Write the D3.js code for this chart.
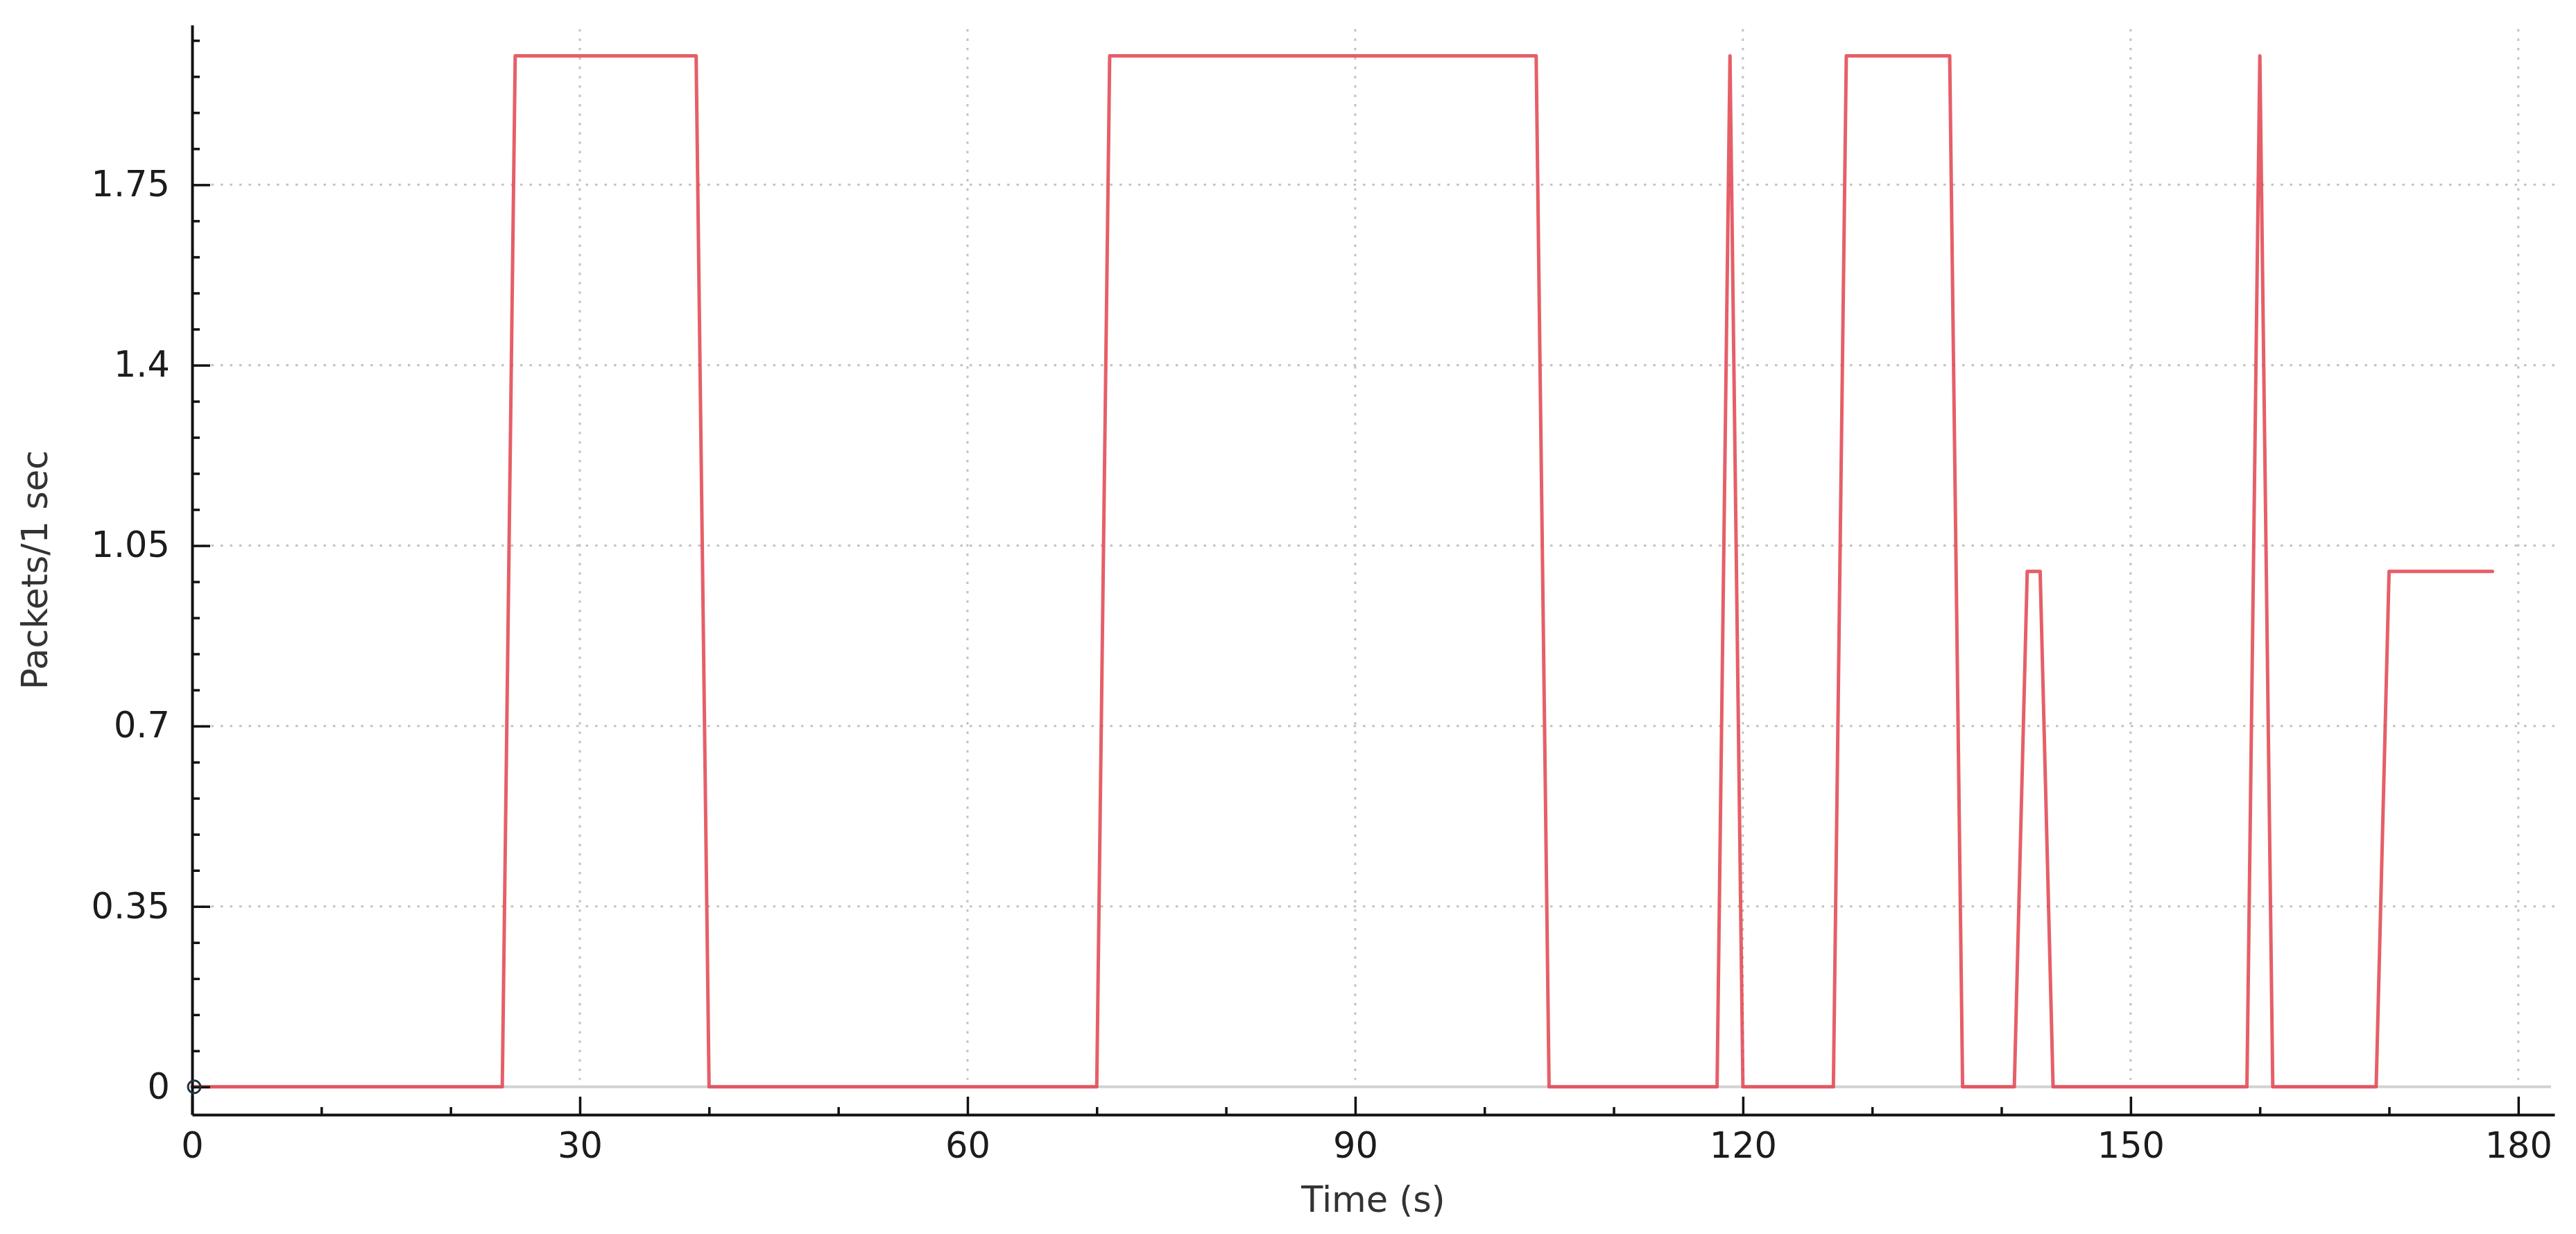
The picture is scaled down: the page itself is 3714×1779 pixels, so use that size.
<!DOCTYPE html>
<html>
<head>
<meta charset="utf-8">
<script src="https://cdn.jsdelivr.net/npm/d3@7"></script>
<style>
  body { margin: 0; background: #fff; }
  text { font-family: "DejaVu Sans", sans-serif; }
</style>
</head>
<body>
<div id="vis-container"></div>
<script>
// packets per 1 s bin, only the points where the rate changes
var times   = [0, 24, 25, 39, 40, 70, 71, 104, 105, 118, 119, 120, 127, 128, 136, 137, 141, 142, 143, 144, 159, 160, 161, 169, 170, 178];
var packets = [0, 0, 2, 2, 0, 0, 2, 2, 0, 0, 2, 0, 0, 2, 2, 0, 0, 1, 1, 0, 0, 2, 0, 0, 1, 1];

var xTicks = [0, 30, 60, 90, 120, 150, 180];
var xMinorTicks = [10, 20, 40, 50, 70, 80, 100, 110, 130, 140, 160, 170];
var yTicks = [0, 0.35, 0.7, 1.05, 1.4, 1.75];
var yMinorTicks = [0.07, 0.14, 0.21, 0.28, 0.42, 0.49, 0.56, 0.63, 0.77, 0.84, 0.91, 0.98,
                   1.12, 1.19, 1.26, 1.33, 1.47, 1.54, 1.61, 1.68, 1.82, 1.89, 1.96, 2.03];
var xDomain = [0, 182.8];
var yDomain = [-0.054, 2.06];

var W = 3714, H = 1779;
var margin = { top: 36, right: 31, bottom: 172, left: 277 },
    width  = W - margin.left - margin.right,
    height = H - margin.top  - margin.bottom;

var xScale = d3.scaleLinear().domain(xDomain).range([0, width]);
var yScale = d3.scaleLinear().domain(yDomain).range([height, 0]);

var svg = d3.select("#vis-container")
  .append("svg")
    .attr("width", W)
    .attr("height", H)
    .style("display", "block");

var canvas = svg.append("g")
    .attr("transform", "translate(" + margin.left + "," + margin.top + ")");

// dotted grid at the major ticks
canvas.append("g").attr("class", "grid")
  .selectAll("line.v")
  .data(xTicks.filter(function(d) { return d > 0; }))
  .enter().append("line")
    .attr("x1", function(d) { return xScale(d); })
    .attr("x2", function(d) { return xScale(d); })
    .attr("y1", yScale(yDomain[1]) + 6)
    .attr("y2", yScale(0) - 10)
    .style("stroke", "#c2c2c2")
    .style("stroke-width", 3)
    .style("stroke-dasharray", "3.5,10");

canvas.append("g").attr("class", "grid")
  .selectAll("line.h")
  .data(yTicks.filter(function(d) { return d > 0; }))
  .enter().append("line")
    .attr("x1", 14)
    .attr("x2", width)
    .attr("y1", function(d) { return yScale(d); })
    .attr("y2", function(d) { return yScale(d); })
    .style("stroke", "#c2c2c2")
    .style("stroke-width", 3)
    .style("stroke-dasharray", "3.5,10");

// zero line
canvas.append("line")
    .attr("x1", xScale(0))
    .attr("x2", width - 5)
    .attr("y1", yScale(0))
    .attr("y2", yScale(0))
    .style("stroke", "#d2d2d2")
    .style("stroke-width", 4);

var line = d3.line()
    .x(function(d, i) { return xScale(times[i]); })
    .y(function(d, i) { return yScale(packets[i]); });

canvas.append("path")
    .datum(packets)
    .attr("d", line)
    .style("fill", "none")
    .style("stroke", "#e2434e")
    .style("stroke-opacity", 0.85)
    .style("stroke-width", 5)
    .style("stroke-linejoin", "round")
    .style("stroke-linecap", "round");

// axes, ticks pointing inward
var xAxis = d3.axisBottom(xScale)
    .tickValues(xTicks)
    .tickFormat(d3.format("d"))
    .tickSizeInner(-26)
    .tickSizeOuter(0)
    .tickPadding(26);

var xAxisG = canvas.append("g")
    .attr("class", "x axis")
    .attr("transform", "translate(0," + height + ")")
    .call(xAxis);

canvas.append("g")
    .attr("class", "x minor")
    .attr("transform", "translate(0," + height + ")")
    .call(d3.axisBottom(xScale).tickValues(xMinorTicks).tickFormat("").tickSizeInner(-11).tickSizeOuter(0))
    .call(function(g) { g.select(".domain").remove(); });

var yAxis = d3.axisLeft(yScale)
    .tickValues(yTicks)
    .tickFormat(function(d) { return d3.format("")(d); })
    .tickSizeInner(-26)
    .tickSizeOuter(0)
    .tickPadding(32);

var yAxisG = canvas.append("g")
    .attr("class", "y axis")
    .call(yAxis);

canvas.append("g")
    .attr("class", "y minor")
    .call(d3.axisLeft(yScale).tickValues(yMinorTicks).tickFormat("").tickSizeInner(-11).tickSizeOuter(0))
    .call(function(g) { g.select(".domain").remove(); });

canvas.selectAll(".axis .domain")
    .style("stroke", "#111")
    .style("stroke-width", 4);
canvas.selectAll(".axis .tick line, .minor .tick line")
    .style("stroke", "#111")
    .style("stroke-width", 3.5);
canvas.selectAll(".axis .tick text")
    .style("font-size", "51px")
    .style("fill", "#1c1c1c");

// marker at the first sample
canvas.append("circle")
    .attr("cx", xScale(times[0]) + 3)
    .attr("cy", yScale(packets[0]))
    .attr("r", 9)
    .style("fill", "none")
    .style("stroke", "#1d3340")
    .style("stroke-width", 3);

canvas.append("text")
    .attr("transform", "translate(" + (68 - margin.left) + "," + (height / 2) + ") rotate(-90)")
    .style("text-anchor", "middle")
    .style("font-size", "51px")
    .style("fill", "#333")
    .text("Packets/1 sec");

canvas.append("text")
    .attr("x", width / 2)
    .attr("y", height + 140)
    .style("text-anchor", "middle")
    .style("font-size", "51px")
    .style("fill", "#333")
    .text("Time (s)");
</script>
</body>
</html>
